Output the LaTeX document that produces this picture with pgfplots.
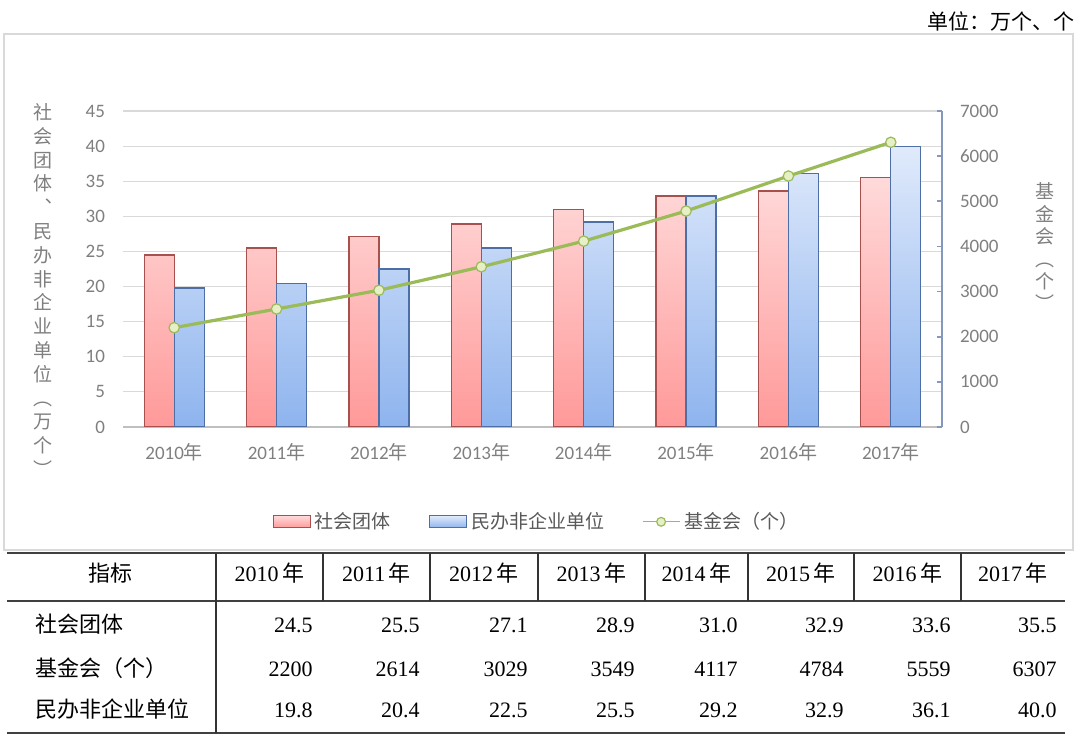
\documentclass[border=0pt]{standalone}
\usepackage{pgfplots}
\pgfplotsset{compat=1.18}
\usepackage{fontspec}
\setmainfont{Carlito}
\newfontfamily\cjk{Noto Sans CJK SC}
\newfontfamily\tnum{Liberation Serif}
\definecolor{redTop}{HTML}{FFDADA}
\definecolor{redBot}{HTML}{FF9999}
\definecolor{redEdge}{HTML}{A8504E}
\definecolor{blueTop}{HTML}{E0EAFB}
\definecolor{blueBot}{HTML}{8EB4EE}
\definecolor{blueEdge}{HTML}{4E6EA6}
\definecolor{lineGreen}{HTML}{9BBB59}
\definecolor{markFill}{HTML}{E6EFC6}
\definecolor{tickGray}{HTML}{7F7F7F}
\definecolor{gridGray}{HTML}{D9D9D9}
\definecolor{baseGray}{HTML}{BFBFBF}
\definecolor{legGray}{HTML}{595959}
\definecolor{rAxis}{HTML}{8497BD}
\newcommand\nian{{\cjk 年}}

\begin{document}
\begin{tikzpicture}
\path[use as bounding box] (0,0) rectangle (540pt,371.5pt);
\draw[gridGray, line width=0.6pt] (2pt,96.5pt) rectangle (536.5pt,354.5pt);

\begin{axis}[
  at={(61.5pt,158pt)}, anchor=south west, scale only axis,
  width=409.5pt, height=158pt,
  xmin=-0.5, xmax=7.5, ymin=0, ymax=45,
  ybar=0pt, bar width=15pt,
  axis x line*=bottom, axis y line*=left,
  y axis line style={draw=none},
  x axis line style={baseGray, line width=0.6pt},
  xtick={0,...,7},
  xticklabels={2010\nian,2011\nian,2012\nian,2013\nian,2014\nian,2015\nian,2016\nian,2017\nian},
  ytick={0,5,...,45},
  major tick length=0pt,
  ymajorgrids, grid style={gridGray, line width=0.6pt},
  tick label style={font=\fontsize{9.5}{11}\selectfont, text=tickGray},
  yticklabel style={xshift=-5.5pt},
  xticklabel style={yshift=-4.5pt},
  /pgf/number format/assume math mode=true,
]
\addplot[draw=redEdge, top color=redTop, bottom color=redBot, line width=0.6pt]
  coordinates {(0,24.5) (1,25.5) (2,27.1) (3,28.9) (4,31.0) (5,32.9) (6,33.6) (7,35.5)};
\addplot[draw=blueEdge, top color=blueTop, bottom color=blueBot, line width=0.6pt]
  coordinates {(0,19.8) (1,20.4) (2,22.5) (3,25.5) (4,29.2) (5,32.9) (6,36.1) (7,40.0)};
\end{axis}

\begin{axis}[
  at={(61.5pt,158pt)}, anchor=south west, scale only axis,
  width=409.5pt, height=158pt,
  xmin=-0.5, xmax=7.5, ymin=0, ymax=7000,
  axis x line=none, axis y line*=right,
  ytick={0,1000,...,7000},
  scaled y ticks=false,
  /pgf/number format/1000 sep={},
  /pgf/number format/assume math mode=true,
  tick align=inside, major tick length=2.5pt,
  y axis line style={rAxis, line width=0.8pt},
  ytick style={rAxis, line width=0.8pt},
  tick label style={font=\fontsize{9.5}{11}\selectfont, text=tickGray},
  yticklabel style={anchor=west, xshift=5.5pt},
  legend columns=3,
  legend style={at={(0.506,-0.30)}, anchor=center, draw=none, fill=none,
    font=\cjk\fontsize{9.5}{11}\selectfont, text=legGray,
    /tikz/every even column/.append style={column sep=17pt}},
]
\addlegendimage{legend image code/.code={\draw[draw=redEdge, top color=redTop, bottom color=redBot, line width=0.6pt] (0pt,-3pt) rectangle (18.5pt,3pt);}}
\addlegendentry{社会团体}
\addlegendimage{legend image code/.code={\draw[draw=blueEdge, top color=blueTop, bottom color=blueBot, line width=0.6pt] (0pt,-3pt) rectangle (18.5pt,3pt);}}
\addlegendentry{民办非企业单位}
\addplot[lineGreen, line width=1.6pt, mark=*, mark size=2.6pt,
  mark options={fill=markFill, draw=lineGreen, line width=0.6pt},
  legend image code/.code={\draw[lineGreen, line width=0.6pt] (0pt,0pt) -- (18.5pt,0pt);
    \draw[lineGreen, fill=markFill, line width=0.6pt] (9.25pt,0pt) circle (2.2pt);}]
  coordinates {(0,2200) (1,2614) (2,3029) (3,3549) (4,4117) (5,4784) (6,5559) (7,6307)};
\addlegendentry{基金会（个）}
\end{axis}

% axis titles
\node[text=tickGray, font=\cjk\fontsize{9.5}{11.9}\selectfont, align=center, inner sep=0pt]
  at (21.5pt,226.5pt) {社\\会\\团\\体\\︑\\民\\办\\非\\企\\业\\单\\位\\︵\\万\\个\\︶};
\node[text=tickGray, font=\cjk\fontsize{9.5}{11.2}\selectfont, align=center, inner sep=0pt]
  at (522.5pt,248pt) {基\\金\\会\\︵\\个\\︶};

% unit
\node[anchor=mid east, font=\cjk\fontsize{10.5}{12}\selectfont, inner sep=0pt] at (537.5pt,359pt) {单位：万个、个};

% table
\draw[line width=0.9pt, black!75] (3.5pt,95pt) -- (532.5pt,95pt);
\draw[line width=0.9pt, black!75] (3.5pt,71pt) -- (532.5pt,71pt);
\draw[line width=0.9pt, black!75] (3.5pt,5pt) -- (532.5pt,5pt);
\draw[line width=0.6pt, black!80] (108pt,95pt) -- (108pt,5pt);
\foreach \x in {161.5,215,269,322.5,374,427,480.5}
  \draw[line width=0.6pt, black!80] (\x pt,95pt) -- (\x pt,71pt);
\node[anchor=mid, font=\cjk\fontsize{11}{12}\selectfont] at (55pt,83pt) {指标};
\foreach \x/\y in {134.75/2010,188.25/2011,242/2012,295.75/2013,348.25/2014,400.5/2015,453.75/2016,506.5/2017}
  \node[anchor=mid, font=\cjk\fontsize{11}{12}\selectfont] at (\x pt,83pt) {{\tnum \y}\,年};
\node[anchor=mid west, font=\cjk\fontsize{11}{12}\selectfont, inner sep=0pt] at (17.5pt,57.5pt) {社会团体};
\node[anchor=mid west, font=\cjk\fontsize{11}{12}\selectfont, inner sep=0pt] at (17.5pt,35.5pt) {基金会（个）};
\node[anchor=mid west, font=\cjk\fontsize{11}{12}\selectfont, inner sep=0pt] at (17.5pt,15pt) {民办非企业单位};
\foreach \x/\a/\b/\c in {156.5/24.5/2200/19.8, 210/25.5/2614/20.4, 264/27.1/3029/22.5, 317.5/28.9/3549/25.5, 369/31.0/4117/29.2, 422/32.9/4784/32.9, 475.5/33.6/5559/36.1, 528.5/35.5/6307/40.0}{
  \node[anchor=mid east, font=\tnum\fontsize{11}{12}\selectfont, inner sep=0pt] at (\x pt,57.5pt) {\a};
  \node[anchor=mid east, font=\tnum\fontsize{11}{12}\selectfont, inner sep=0pt] at (\x pt,35.5pt) {\b};
  \node[anchor=mid east, font=\tnum\fontsize{11}{12}\selectfont, inner sep=0pt] at (\x pt,15pt) {\c};
}
\end{tikzpicture}
\end{document}
